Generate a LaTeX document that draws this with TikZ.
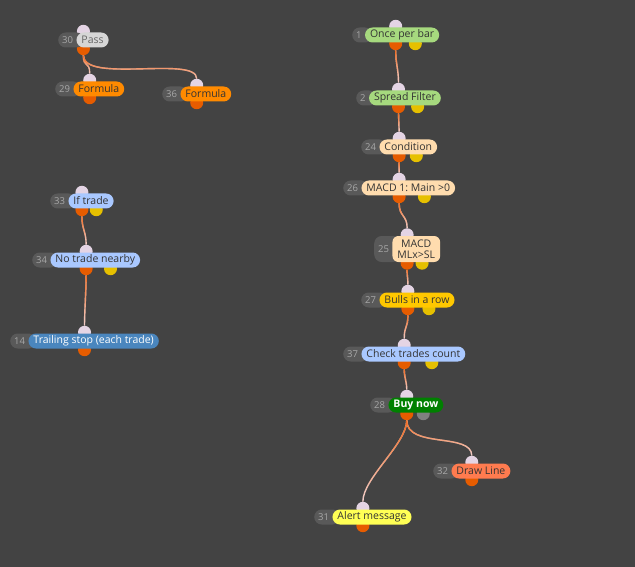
\documentclass[tikz,border=0pt]{standalone}
\usepackage{fontspec}
\setmainfont{Open Sans}
\usetikzlibrary{calc, fadings}
\definecolor{canvas}{HTML}{434343}
\definecolor{tagfill}{HTML}{595959}
\definecolor{tagtext}{HTML}{A8A8A8}
\definecolor{inport}{HTML}{E4D4E4}
\definecolor{outport}{HTML}{E65C00}
\definecolor{yesport}{HTML}{E6C000}
\definecolor{wirepale}{HTML}{F2D2D0}
\definecolor{wirehot}{HTML}{F36A1E}
\definecolor{passgray}{HTML}{D6D6D6}
\definecolor{formorange}{HTML}{FF8A00}
\definecolor{lightblue}{HTML}{A9C8FF}
\definecolor{steelblue}{HTML}{4A86BE}
\definecolor{lightgreen}{HTML}{A6D97E}
\definecolor{peach}{HTML}{FFDCAE}
\definecolor{gold}{HTML}{FFC800}
\definecolor{buygreen}{HTML}{008000}
\definecolor{coral}{HTML}{FF7B4F}
\definecolor{alertyellow}{HTML}{FFFF55}
\pgfdeclarelayer{canvaslayer}
\pgfdeclarelayer{wires}
\pgfdeclarelayer{ports}
\pgfsetlayers{canvaslayer,wires,ports,main}
\frenchspacing

% [#1] tag options, #2 name, #3 number, #4 west end, #5 pill options, #6 text, #7 extra port
\newcommand{\fxblock}[7][]{%
  \node[tag, #1, anchor=west] (#2-num) at (#4) {#3\hspace*{7pt}};
  \node[pill, #5, anchor=west] (#2) at ([xshift=-8pt]#2-num.east) {#6};
  \coordinate (#2-c) at ($(#2-num.west)!0.5!(#2.east)$);
  \coordinate (#2-x) at ($(#2-c)!0.45!(#2.east)$);
  \begin{pgfonlayer}{ports}
    \node[inport] (#2-in) at ([yshift=1pt]#2.north -| #2-c) {};
    \node[outport] (#2-out) at ([yshift=-1pt]#2.south -| #2-c) {};
    \ifx\relax#7\relax\else
      \node[#7] (#2-alt) at ([yshift=-1pt]#2.south -| #2-x) {};
    \fi
  \end{pgfonlayer}}

\begin{document}
\begin{tikzpicture}[x=1pt, y=-1pt,
  tag/.style={fill=tagfill, text=tagtext, rounded corners=7.5pt, minimum height=15pt,
    inner xsep=4pt, inner ysep=1pt, font=\fontsize{9.5}{11}\selectfont},
  pill/.style={rounded corners=7.5pt, minimum height=15pt, inner xsep=5pt, inner ysep=1pt,
    align=center, text=black!80, font=\fontsize{10.5}{11.5}\selectfont},
  inport/.style={circle, fill=inport, minimum size=13pt, inner sep=0pt},
  outport/.style={circle, fill=outport, minimum size=13pt, inner sep=0pt},
  yesport/.style={circle, fill=yesport, minimum size=13pt, inner sep=0pt},
  grayport/.style={circle, fill=gray, minimum size=13pt, inner sep=0pt},
  link/.style={draw=wirepale, line width=1.4pt,
    postaction={draw=wirehot, line width=1.4pt, path fading=south}}
]
  \useasboundingbox (0,0) rectangle (635,567);
  \begin{pgfonlayer}{canvaslayer}
    \fill[canvas] (0,0) rectangle (635,567);
  \end{pgfonlayer}

  % left group
  \fxblock{pass}{30}{58,40}{fill=passgray, text=black!60}{Pass}{}
  \fxblock{formA}{29}{55,89}{fill=formorange}{Formula}{}
  \fxblock{formB}{36}{162,94}{fill=formorange}{Formula}{}
  \fxblock{iftrade}{33}{50,201}{fill=lightblue}{If trade}{yesport}
  \fxblock{notrade}{34}{32,260}{fill=lightblue}{No trade nearby}{yesport}
  \fxblock{trail}{14}{10,341}{fill=steelblue, text=white}{Trailing stop (each trade)}{}

  % right group
  \fxblock{onceper}{1}{352,35}{fill=lightgreen}{Once per bar}{yesport}
  \fxblock{spread}{2}{356,98}{fill=lightgreen}{Spread Filter}{yesport}
  \fxblock{cond}{24}{361,147}{fill=peach}{Condition}{yesport}
  \fxblock{macdA}{26}{343,188}{fill=peach}{MACD 1: Main >0}{yesport}
  \fxblock[minimum height=26pt]{macdB}{25}{374,249}{fill=peach, minimum height=26pt, rounded corners=6pt, font=\fontsize{10.5}{11}\selectfont}{MACD\\MLx>SL}{yesport}
  \fxblock{bulls}{27}{361,300}{fill=gold}{Bulls in a row}{yesport}
  \fxblock{check}{37}{343,354}{fill=lightblue}{Check trades count}{yesport}
  \fxblock{buy}{28}{370,405}{fill=buygreen, text=white, font=\fontsize{10.5}{11.5}\selectfont\bfseries}{Buy now}{grayport}
  \fxblock{drawline}{32}{433,471}{fill=coral}{Draw Line}{}
  \fxblock{alert}{31}{314,517}{fill=alertyellow}{Alert message}{}

  \begin{pgfonlayer}{wires}
    \draw[link] (pass-out) .. controls +(0,20) and +(0,-20) .. (formA-in);
    \draw[link] (pass-out) .. controls +(0,35) and +(0,-30) .. (formB-in);
    \draw[link] (iftrade-out) .. controls +(0,20) and +(0,-20) .. (notrade-in);
    \draw[link] (notrade-out) .. controls +(0,20) and +(0,-20) .. (trail-in);
    \draw[link] (onceper-out) .. controls +(0,20) and +(0,-20) .. (spread-in);
    \draw[link] (spread-out) .. controls +(0,15) and +(0,-15) .. (cond-in);
    \draw[link] (cond-out) .. controls +(0,10) and +(0,-10) .. (macdA-in);
    \draw[link] (macdA-out) .. controls +(0,20) and +(0,-20) .. (macdB-in);
    \draw[link] (macdB-out) .. controls +(0,15) and +(0,-15) .. (bulls-in);
    \draw[link] (bulls-out) .. controls +(0,20) and +(0,-20) .. (check-in);
    \draw[link] (check-out) .. controls +(0,15) and +(0,-15) .. (buy-in);
    \draw[link] (buy-out) .. controls +(0,35) and +(0,-30) .. (drawline-in);
    \draw[link] (buy-out) .. controls +(0,30) and +(0,-30) .. (alert-in);
  \end{pgfonlayer}
\end{tikzpicture}
\end{document}
